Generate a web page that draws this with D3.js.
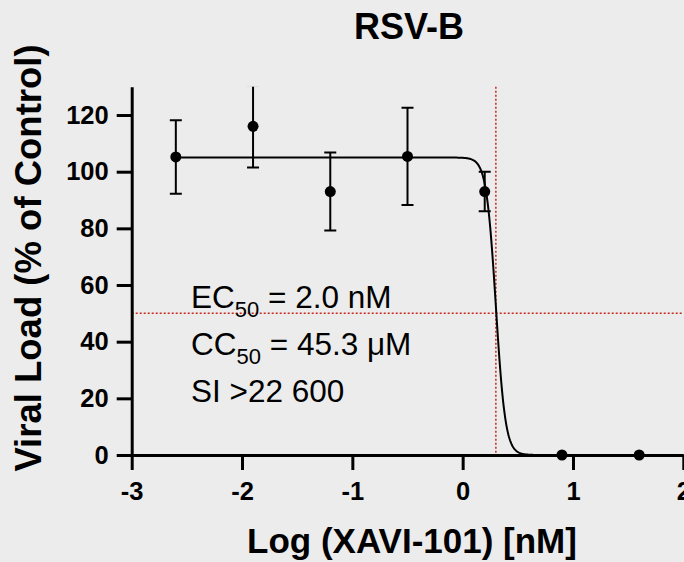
<!DOCTYPE html>
<html lang="en">
    <head>
        <meta charset="utf-8">
        <title>RSV-B</title>
        <script type="text/javascript" src="https://cdn.jsdelivr.net/npm/d3@7"></script>
        <style type="text/css">
          body { margin: 0; background: #ebeceb; }
          svg { display: block; }
          .axis path,
          .axis line {
              fill: none;
              stroke: black;
              stroke-width: 3px;
          }
          .axis text {
              font-family: "Liberation Sans", Arial, sans-serif;
              font-size: 25.5px;
              font-weight: bold;
              fill: black;
          }
        </style>
    </head>
    <body>
        <script type="text/javascript">
            //Data
            var logConc = [ -2.6, -1.9, -1.2, -0.5, 0.2, 0.9, 1.6 ];
            var viralLoad = [ 105.2, 116, 93, 105.4, 93, 0, 0 ];
            var errLoad = [ 13, 14.5, 13.8, 17.2, 7, 0, 0 ];
            var xTicks = [ -3, -2, -1, 0, 1, 2 ];
            var yTicks = [ 0, 20, 40, 60, 80, 100, 120 ];

            //Four-parameter fit shown as the curve
            var fitTop = 105;
            var fitBottom = 0;
            var logEC50 = Math.log10(2.0);
            var hillSlope = 10;

            var w = 684;
            var h = 562;

            var xScale = d3.scaleLinear().domain([-3, 2]).range([131.7, 683.3]);
            var yScale = d3.scaleLinear().domain([0, 130]).range([455, 86.7]);

            var svg = d3.select("body")
                        .append("svg")
                        .attr("width", w)
                        .attr("height", h);

            svg.append("defs").append("clipPath")
               .attr("id", "plot")
               .append("rect")
               .attr("x", xScale(-3))
               .attr("y", yScale(130))
               .attr("width", xScale(2) - xScale(-3) + 10)
               .attr("height", yScale(0) - yScale(130) + 20);

            //Title
            svg.append("text")
               .attr("x", 409)
               .attr("y", 39)
               .attr("text-anchor", "middle")
               .attr("font-family", "Liberation Sans, Arial, sans-serif")
               .attr("font-weight", "bold")
               .attr("font-size", "36px")
               .text("RSV-B");

            //Red dotted EC50 guides
            var guides = svg.append("g")
                .attr("stroke", "#c8281e")
                .attr("stroke-width", 1.5)
                .attr("stroke-dasharray", "2,2");
            guides.append("line")
               .attr("x1", xScale(-3)).attr("x2", xScale(2))
               .attr("y1", yScale(50)).attr("y2", yScale(50));
            guides.append("line")
               .attr("x1", xScale(logEC50)).attr("x2", xScale(logEC50))
               .attr("y1", yScale(130)).attr("y2", yScale(0));

            //Axes
            var xAxis = d3.axisBottom(xScale)
                .tickValues(xTicks)
                .tickSize(15)
                .tickSizeOuter(0)
                .tickPadding(12)
                .tickFormat(d3.format("d"));
            var yAxis = d3.axisLeft(yScale)
                .tickValues(yTicks)
                .tickSize(15)
                .tickSizeOuter(0)
                .tickPadding(8);

            svg.append("g")
               .attr("class", "axis")
               .attr("transform", "translate(0," + yScale(0) + ")")
               .call(xAxis);
            svg.append("g")
               .attr("class", "axis")
               .attr("transform", "translate(" + xScale(-3) + ",0)")
               .call(yAxis);
            svg.selectAll(".axis text").text(function() {
                return this.textContent.replace("−", "-");
            });

            //Fitted curve
            var fitX = d3.range(logConc[0], logConc[logConc.length - 1] + 0.0001, 0.005);
            var line = d3.line()
                .x(function(d) { return xScale(d); })
                .y(function(d) {
                    return yScale(fitBottom + (fitTop - fitBottom) / (1 + Math.pow(10, (d - logEC50) * hillSlope)));
                });
            svg.append("path")
               .datum(fitX)
               .attr("d", line)
               .attr("fill", "none")
               .attr("stroke", "black")
               .attr("stroke-width", 2);

            //Error bars
            var bars = svg.append("g")
                .attr("clip-path", "url(#plot)")
                .attr("stroke", "black")
                .attr("stroke-width", 2);
            logConc.forEach(function(c, i) {
                if (errLoad[i] === 0) return;
                var cx = xScale(c);
                var top = yScale(viralLoad[i] + errLoad[i]);
                var bot = yScale(viralLoad[i] - errLoad[i]);
                bars.append("line").attr("x1", cx).attr("x2", cx).attr("y1", top).attr("y2", bot);
                bars.append("line").attr("x1", cx - 6).attr("x2", cx + 6).attr("y1", top).attr("y2", top);
                bars.append("line").attr("x1", cx - 6).attr("x2", cx + 6).attr("y1", bot).attr("y2", bot);
            });

            //Points
            svg.selectAll("circle")
               .data(logConc)
               .enter()
               .append("circle")
               .attr("cx", function(d) { return xScale(d); })
               .attr("cy", function(d, i) { return yScale(viralLoad[i]); })
               .attr("r", 5.5)
               .attr("fill", "black");

            //Annotation
            var note = svg.append("g")
                .attr("font-family", "Liberation Sans, Arial, sans-serif")
                .attr("font-size", "31.5px");
            var ec = note.append("text").attr("x", 191).attr("y", 308);
            ec.append("tspan").text("EC");
            ec.append("tspan").attr("font-size", "22px").attr("dy", 8.5).text("50");
            ec.append("tspan").attr("dy", -8.5).text(" = 2.0 nM");
            var cc = note.append("text").attr("x", 191).attr("y", 355);
            cc.append("tspan").text("CC");
            cc.append("tspan").attr("font-size", "22px").attr("dy", 8.5).text("50");
            cc.append("tspan").attr("dy", -8.5).text(" = 45.3 μM");
            note.append("text").attr("x", 191).attr("y", 401.5).text("SI >22 600");

            //Axis titles
            svg.append("text")
               .attr("x", 412)
               .attr("y", 553)
               .attr("text-anchor", "middle")
               .attr("font-family", "Liberation Sans, Arial, sans-serif")
               .attr("font-weight", "bold")
               .attr("font-size", "35px")
               .text("Log (XAVI-101) [nM]");
            svg.append("text")
               .attr("transform", "translate(41,258) rotate(-90)")
               .attr("text-anchor", "middle")
               .attr("font-family", "Liberation Sans, Arial, sans-serif")
               .attr("font-weight", "bold")
               .attr("font-size", "36.5px")
               .text("Viral Load (% of Control)");
        </script>
    </body>
</html>
